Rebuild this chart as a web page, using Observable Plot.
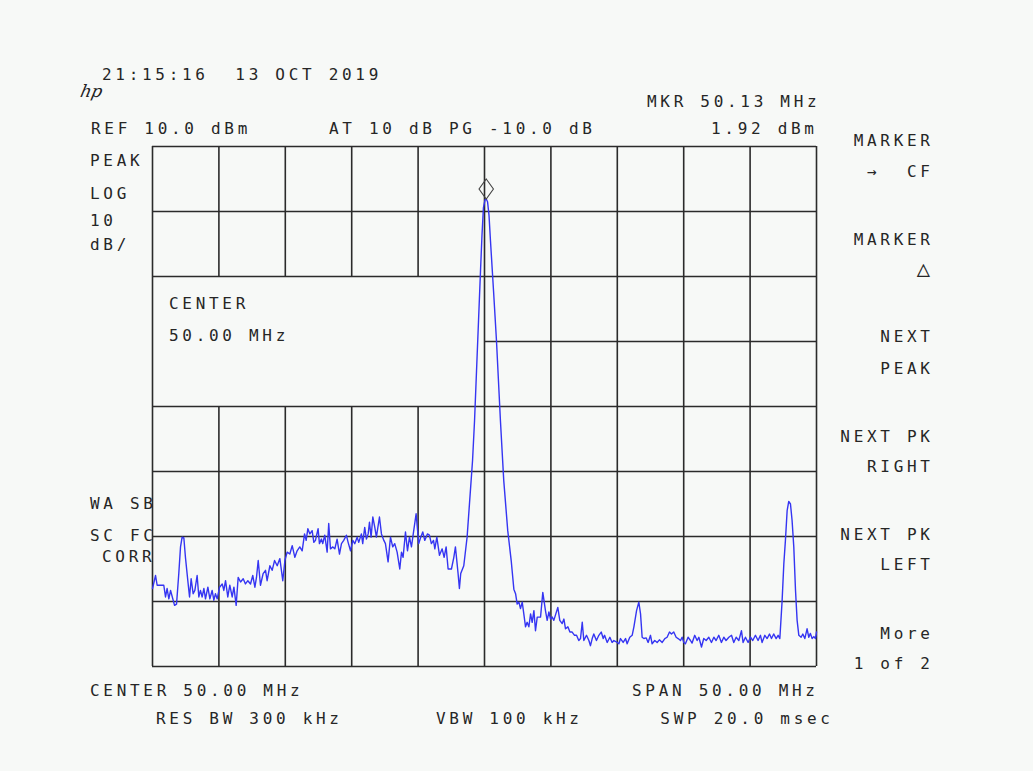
<!DOCTYPE html>
<html>
<head>
<meta charset="utf-8">
<script src="https://cdn.jsdelivr.net/npm/d3@7"></script>
<script src="https://cdn.jsdelivr.net/npm/@observablehq/plot@0.6"></script>
<style>
  html, body { margin: 0; padding: 0; background: #f7f9f7; }
  #wrap { position: relative; width: 1033px; height: 771px; }
  #wrap svg { position: absolute; left: 0; top: 0; }
  .lbl { font-family: "DejaVu Sans Mono", monospace; font-size: 16px; letter-spacing: 3.7px; fill: #262626; white-space: pre; }
</style>
</head>
<body>
<div id="wrap"></div>
<script>
// ---- Data ----
const freqRangeMHz = [25, 75];          // CENTER 50 MHz, SPAN 50 MHz
const levelRangeDbm = [-70, 10];        // REF 10 dBm, 10 dB/div, 8 div
const gridFreqs = [25, 30, 35, 40, 45, 50, 55, 60, 65, 70, 75];
const gridLevels = [10, 0, -10, -20, -30, -40, -50, -60, -70];
const infoBoxFreq = [25, 50];           // grid is blanked behind "CENTER" box
const infoBoxLevel = [-30, -10];

const traceFreqMHz = [
  25.00,25.23,25.35,25.85,25.98,26.10,26.23,26.36,26.66,26.81,26.98,27.11,27.23,27.36,27.48,27.66,27.79,27.91,28.06,28.19,
  28.36,28.49,28.61,28.74,28.87,28.99,29.17,29.32,29.49,29.62,29.74,29.87,30.05,30.25,30.37,30.50,30.67,30.82,31.00,31.13,
  31.30,31.45,31.63,31.83,32.00,32.18,32.38,32.55,32.71,32.83,32.96,33.13,33.33,33.51,33.63,33.84,34.01,34.19,34.39,34.59,
  34.81,34.97,35.14,35.34,35.52,35.72,35.89,36.09,36.27,36.45,36.57,36.70,36.85,37.02,37.15,37.27,
  37.47,37.57,37.72,37.82,37.97,38.15,38.27,38.40,38.58,38.73,38.90,39.08,39.23,39.40,39.60,39.73,39.91,40.08,40.23,40.41,
  40.53,40.73,40.83,40.98,41.11,41.24,41.34,41.46,41.59,41.74,41.86,42.09,42.24,42.42,42.54,42.74,42.92,43.09,43.24,43.42,
  43.62,43.75,43.87,44.05,44.20,44.35,44.50,44.67,44.85,45.05,45.20,45.35,45.50,45.70,45.85,46.00,46.16,46.26,46.41,46.61,
  46.81,46.96,47.11,47.26,47.51,47.69,47.81,48.01,48.11,48.21,48.44,48.69,48.94,
  49.10,49.25,49.40,49.55,49.70,49.81,49.92,50.04,50.13,50.23,50.34,50.45,50.68,50.90,51.20,51.45,51.75,52.01,
  52.21,52.34,52.46,52.59,52.71,52.84,52.96,53.09,53.21,53.34,53.47,53.59,53.72,53.84,53.97,54.22,54.39,54.59,54.72,54.85,
  54.97,55.10,55.22,55.52,55.67,55.85,55.98,56.10,56.28,56.43,56.60,56.78,56.93,57.10,57.23,57.36,57.48,57.68,57.86,57.98,
  58.11,58.23,58.43,58.61,58.79,58.94,59.04,59.24,59.44,59.61,59.74,59.99,60.12,60.24,60.44,60.62,60.74,60.94,61.12,61.25,
  61.45,61.62,61.75,61.87,62.00,62.18,
  62.32,62.50,62.62,62.82,63.00,63.17,63.38,63.58,63.75,63.93,64.08,64.25,64.43,64.58,64.76,64.88,65.01,65.13,65.33,65.51,
  65.63,65.83,66.01,66.14,66.34,66.51,66.69,66.89,67.09,67.27,67.44,67.64,67.84,68.02,68.19,68.40,68.60,68.77,68.95,69.15,
  69.35,69.47,69.65,69.85,70.03,70.20,70.40,70.60,70.78,70.90,71.11,71.28,71.46,71.61,71.78,71.96,72.11,72.24,
  72.41,72.54,72.66,72.79,72.91,73.04,73.16,73.29,73.42,73.54,73.67,73.84,73.97,74.12,74.29,74.42,74.54,74.67,74.80,74.92,75.00
];
const traceLevelDbm = [
  -58.0,-56.0,-57.5,-57.5,-59.3,-58.0,-59.6,-58.3,-60.6,-60.4,-55.7,-51.6,-50.1,-50.2,-53.2,-56.8,-59.3,-56.5,-58.8,-58.3,
  -56.0,-59.3,-58.3,-59.3,-58.0,-59.6,-57.8,-59.6,-58.3,-59.8,-58.8,-59.6,-57.8,-57.3,-58.3,-56.8,-59.3,-57.5,-59.3,-57.8,
  -60.6,-56.3,-57.0,-56.5,-57.3,-56.8,-57.3,-56.0,-57.8,-56.3,-53.7,-57.5,-55.7,-55.2,-56.8,-54.5,-55.2,-53.7,-54.5,-53.4,
  -56.8,-53.7,-52.4,-52.7,-51.4,-53.2,-52.2,-51.6,-52.2,-49.6,-50.6,-48.8,-49.6,-49.1,-50.9,-50.6,
  -48.8,-51.1,-50.4,-51.1,-49.8,-52.4,-48.0,-51.9,-51.6,-51.9,-50.4,-52.7,-51.1,-50.6,-49.8,-50.9,-52.2,-50.6,-51.1,-50.1,
  -50.9,-49.6,-51.1,-48.6,-50.4,-49.6,-47.8,-50.1,-47.0,-48.6,-50.1,-47.0,-49.6,-50.6,-51.1,-53.9,-50.1,-51.6,-51.1,-52.4,
  -55.0,-52.4,-53.2,-49.3,-52.2,-50.1,-51.6,-49.1,-46.5,-51.1,-50.1,-49.3,-50.6,-49.6,-49.8,-51.1,-50.6,-51.9,-50.1,-52.9,
  -51.9,-53.2,-51.6,-55.0,-55.0,-53.2,-51.6,-55.7,-58.0,-55.7,-54.5,-50.1,-42.9,
  -38.3,-32.2,-24.5,-16.8,-9.1,-3.7,0.6,1.8,1.92,1.5,-0.6,-4.5,-12.2,-19.8,-32.2,-41.4,-49.1,-53.7,
  -58.1,-58.8,-60.4,-60.1,-61.1,-60.1,-61.9,-63.9,-63.2,-63.9,-61.9,-63.2,-61.4,-64.5,-62.4,-62.4,-58.6,-61.4,-62.9,-61.6,
  -62.7,-62.4,-62.9,-60.9,-62.9,-63.4,-62.7,-64.2,-63.9,-64.7,-64.7,-65.2,-65.2,-66.0,-65.7,-63.2,-66.0,-65.2,-66.0,-66.8,
  -65.7,-65.0,-66.0,-65.2,-64.7,-65.7,-65.2,-66.3,-65.5,-66.3,-66.0,-66.3,-66.5,-65.7,-66.3,-65.7,-66.5,-65.5,-65.2,-63.9,
  -61.4,-60.1,-61.9,-65.5,-65.7,-65.6,
  -66.3,-65.2,-66.5,-66.0,-66.3,-65.9,-66.3,-65.7,-65.5,-64.7,-65.0,-64.7,-65.5,-65.7,-66.0,-65.5,-66.3,-66.5,-65.5,-66.0,
  -66.4,-65.2,-66.0,-65.5,-67.0,-65.7,-66.0,-65.5,-66.3,-65.5,-66.0,-65.2,-66.3,-65.5,-66.0,-65.5,-65.2,-66.3,-65.5,-66.0,
  -64.5,-66.3,-65.5,-66.3,-65.5,-66.0,-65.2,-66.0,-65.2,-66.3,-65.2,-65.7,-65.0,-65.7,-65.0,-65.7,-65.2,-65.7,
  -59.9,-54.2,-50.6,-46.0,-44.6,-45.0,-47.5,-51.6,-58.3,-62.9,-65.2,-65.5,-65.0,-65.7,-64.2,-65.5,-64.9,-65.7,-65.4,-65.7,-64.7
];
const markerFreqMHz = 50.13;
const markerLevelDbm = 1.92;

// ---- Texts ----
const txtDate = "21:15:16  13 OCT 2019";
const txtMkr = "MKR 50.13 MHz";
const txtMkrVal = "1.92 dBm";
const txtRef = "REF 10.0 dBm";
const txtAtten = "AT 10 dB PG -10.0 dB";
const leftLabels = ["PEAK", "LOG", "10", "dB/"];
const corrLabels = ["WA SB", "SC FC", "CORR"];
const boxLabels = ["CENTER", "50.00 MHz"];
const softKeys = ["MARKER", "\u2192  CF", "MARKER", "\u25B3", "NEXT", "PEAK", "NEXT PK", "RIGHT", "NEXT PK", "LEFT", "More", "1 of 2"];
const txtCenter = "CENTER 50.00 MHz";
const txtSpan = "SPAN 50.00 MHz";
const txtRbw = "RES BW 300 kHz";
const txtVbw = "VBW 100 kHz";
const txtSwp = "SWP 20.0 msec";

// ---- Build ----
const trace = traceFreqMHz.map((f, i) => ({f, L: traceLevelDbm[i]}));

const vSegs = [];
for (const f of gridFreqs) {
  if (f > infoBoxFreq[0] && f < infoBoxFreq[1]) {
    vSegs.push({f, y1: levelRangeDbm[0], y2: infoBoxLevel[0]});
    vSegs.push({f, y1: infoBoxLevel[1], y2: levelRangeDbm[1]});
  } else vSegs.push({f, y1: levelRangeDbm[0], y2: levelRangeDbm[1]});
}
const hSegs = [];
for (const L of gridLevels) {
  if (L > infoBoxLevel[0] && L < infoBoxLevel[1]) hSegs.push({L, x1: infoBoxFreq[1], x2: freqRangeMHz[1]});
  else hSegs.push({L, x1: freqRangeMHz[0], x2: freqRangeMHz[1]});
}

const markerSymbol = {
  draw(ctx, size) {
    const h = Math.sqrt(size) * 0.94, w = h * 0.72;
    ctx.moveTo(0, -h); ctx.lineTo(w, 0); ctx.lineTo(0, h); ctx.lineTo(-w, 0); ctx.closePath();
  }
};

const gridColor = "#2b2b2b";
const chart = Plot.plot({
  width: 1033, height: 771,
  marginLeft: 152, marginRight: 217, marginTop: 146, marginBottom: 105,
  x: {domain: freqRangeMHz, axis: null},
  y: {domain: levelRangeDbm, axis: null},
  style: {background: "transparent", overflow: "visible"},
  marks: [
    Plot.ruleX(vSegs, {x: "f", y1: "y1", y2: "y2", stroke: gridColor, strokeWidth: 1.6, strokeOpacity: 1}),
    Plot.ruleY(hSegs, {y: "L", x1: "x1", x2: "x2", stroke: gridColor, strokeWidth: 1.6, strokeOpacity: 1}),
    Plot.line(trace, {x: "f", y: "L", stroke: "#3535f2", strokeWidth: 1.4, curve: "linear"}),
    Plot.dot([{f: markerFreqMHz, L: markerLevelDbm}], {x: "f", y: "L", symbol: markerSymbol, r: 6, dy: -10, stroke: "#444", strokeWidth: 1.1, fill: "none"})
  ]
});
document.getElementById("wrap").appendChild(chart);

// ---- Screen annotations (overlay) ----
const svg = d3.select("#wrap").append("svg").attr("width", 1033).attr("height", 771).style("pointer-events", "none");
function label(t, x, y, anchor = "start", size) {
  const el = svg.append("text").attr("class", "lbl").attr("x", anchor === "end" ? x + 3.7 : x).attr("y", y)
    .attr("text-anchor", anchor).attr("xml:space", "preserve").text(t);
  if (size) el.style("font-size", size + "px");
  return el;
}
label(txtDate, 102, 80);
svg.append("text").attr("x", 80).attr("y", 97).attr("font-family", "DejaVu Serif").attr("font-style", "italic")
  .attr("font-size", 17).attr("fill", "#222").attr("transform", "skewX(-12) translate(20,0)").text("hp");
label(txtMkr, 647, 107);
label(txtRef, 91, 134);
label(txtAtten, 329, 134);
label(txtMkrVal, 711, 134);
[166, 199, 226, 250].forEach((y, i) => label(leftLabels[i], 90, y));
label(corrLabels[0], 90, 509);
label(corrLabels[1], 90, 541);
label(corrLabels[2], 102, 562);
label(boxLabels[0], 169, 309);
label(boxLabels[1], 169, 341);
[146, 177, 245, 276, 342, 374, 442, 472, 540, 570, 639, 669].forEach((y, i) =>
  label(softKeys[i], 930, y, "end", softKeys[i] === "\u25B3" ? 22 : undefined));
label(txtCenter, 90, 696);
label(txtSpan, 815, 696, "end");
label(txtRbw, 156, 724);
label(txtVbw, 436, 724);
label(txtSwp, 830, 724, "end");
</script>
</body>
</html>
